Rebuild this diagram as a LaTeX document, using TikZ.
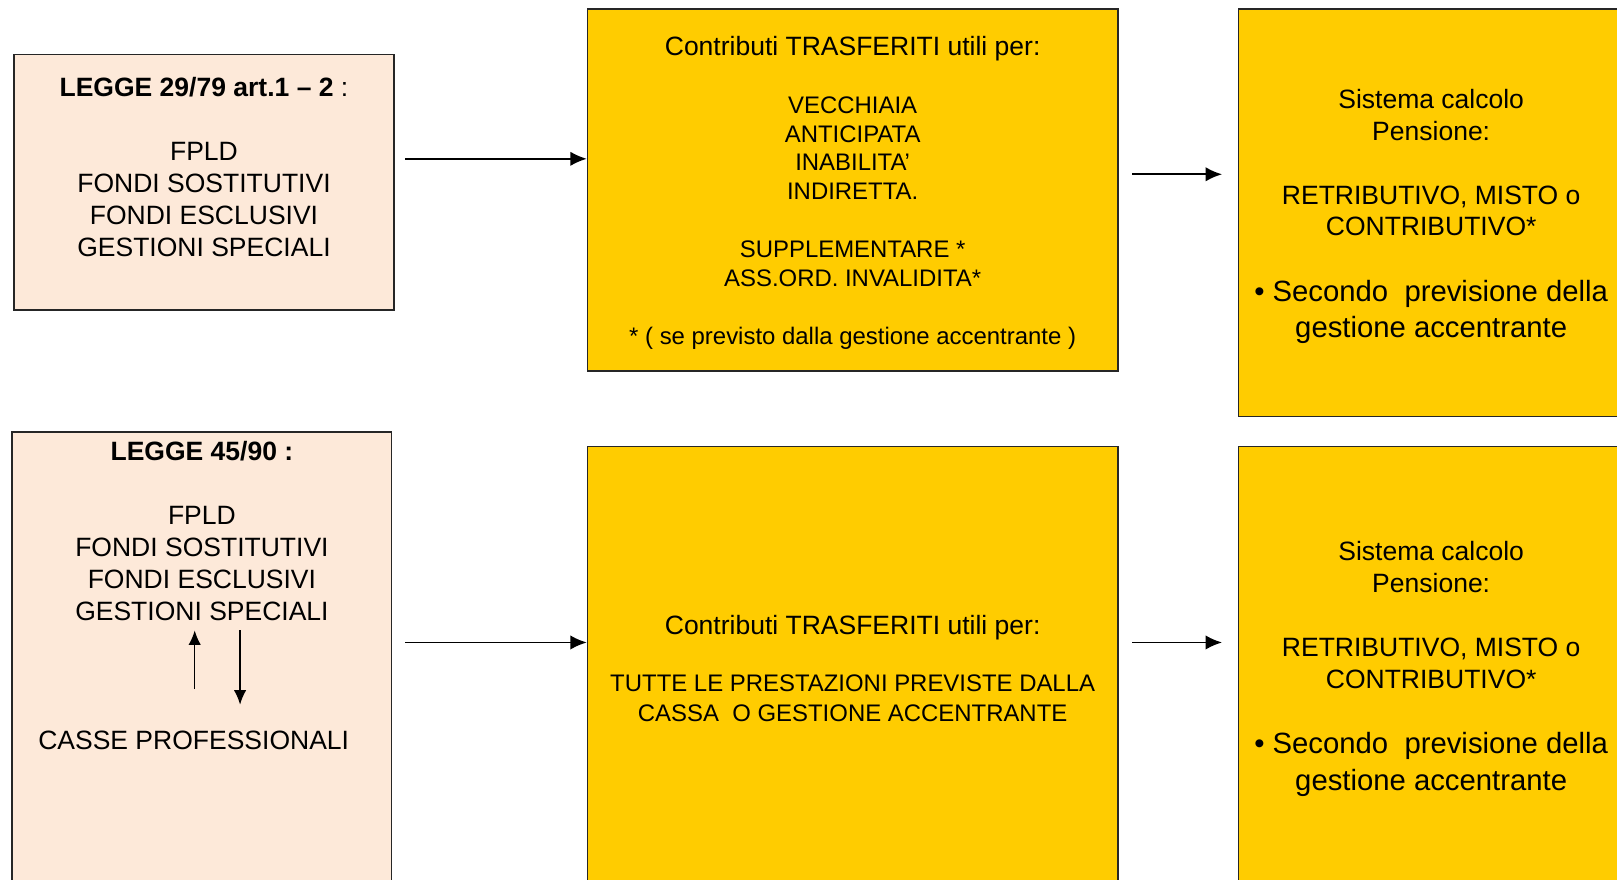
\documentclass[tikz,border=0pt]{standalone}
\usepackage{fontspec}
\setmainfont{Liberation Sans}
\usetikzlibrary{positioning, calc, arrows.meta}
\definecolor{pesca}{HTML}{FDE9D9}
\definecolor{oro}{HTML}{FFCC00}
\tikzstyle{arrow} = [line width=1.7pt, -{Latex[length=16pt, width=14pt]}]
\tikzstyle{arrowsmall} = [line width=1.5pt, -{Latex[length=14pt, width=12pt]}]
\tikzstyle{boxl} = [rectangle, draw=black!85, line width=1.6pt, fill=pesca, anchor=north west]
\tikzstyle{boxg} = [rectangle, draw=black!85, line width=1.6pt, fill=oro, anchor=north west]
\tikzstyle{txtbig} = [align=center, inner sep=0pt, font=\fontsize{25.7}{31}\selectfont]
\tikzstyle{txtsmall} = [align=center, inner sep=0pt, font=\fontsize{23.2}{28}\selectfont]
\tikzstyle{txtbullet} = [align=center, inner sep=0pt, font=\fontsize{28.4}{35}\selectfont]

\begin{document}
\begin{tikzpicture}[x=1pt, y=-1pt]
                \useasboundingbox (0,0) rectangle (1568,853.3);
                \clip (0,0) rectangle (1568,853.3);

                % riga 1: legge 29/79
                \node (a1) [boxl, minimum width=368pt, minimum height=248pt] at (13,52) {};
                \node (m1) [boxg, minimum width=514pt, minimum height=351pt] at (569,8) {};
                \node (r1) [boxg, minimum width=440pt, minimum height=395pt] at (1200,8) {};
                \node (a1txt) [txtbig, below=23pt of a1.north] {\textbf{LEGGE 29/79 art.1 – 2} :\\[31pt]FPLD\\FONDI SOSTITUTIVI\\FONDI ESCLUSIVI\\GESTIONI SPECIALI};
                \node (m1head) [txtbig, below=27pt of m1.north] {Contributi TRASFERITI utili per:};
                \node (m1txt) [txtsmall, below=34pt of m1head] {VECCHIAIA\\ANTICIPATA\\INABILITA’\\INDIRETTA.\\[28pt]SUPPLEMENTARE *\\ASS.ORD. INVALIDITA*\\[28pt]* ( se previsto dalla gestione accentrante )};
                \node (r1txt) [txtbig, below=78pt of r1.north, xshift=-33pt] {Sistema calcolo\\Pensione:\\[31pt]RETRIBUTIVO, MISTO o\\CONTRIBUTIVO*};
                \node (r1bul) [txtbullet, below=42pt of r1txt] {• Secondo~ previsione della\\gestione accentrante};

                % riga 2: legge 45/90
                \node (a2) [boxl, minimum width=368pt, minimum height=500pt] at (11,418) {};
                \node (m2) [boxg, minimum width=514pt, minimum height=500pt] at (569,432) {};
                \node (r2) [boxg, minimum width=440pt, minimum height=500pt] at (1200,432) {};
                \node (a2txt) [txtbig, below=10pt of a2.north] {\textbf{LEGGE 45/90 :}\\[31pt]FPLD\\FONDI SOSTITUTIVI\\FONDI ESCLUSIVI\\GESTIONI SPECIALI};
                \node (casse) [txtbig, below=106pt of a2txt, xshift=-8pt] {CASSE PROFESSIONALI};
                \node (m2head) [txtbig, below=164pt of m2.north] {Contributi TRASFERITI utili per:};
                \node (m2txt) [txtsmall, below=34pt of m2head] {TUTTE LE PRESTAZIONI PREVISTE DALLA\\[1pt]CASSA~ O GESTIONE ACCENTRANTE};
                \node (r2txt) [txtbig, below=93pt of r2.north, xshift=-33pt] {Sistema calcolo\\Pensione:\\[31pt]RETRIBUTIVO, MISTO o\\CONTRIBUTIVO*};
                \node (r2bul) [txtbullet, below=42pt of r2txt] {• Secondo~ previsione della\\gestione accentrante};

                \coordinate (s1) at (393,154);
                \coordinate (s2) at (1098,169);
                \coordinate (e2) at (1185,169);
                \coordinate (s3) at (393,623);
                \coordinate (s4) at (1098,623);
                \coordinate (e4) at (1185,623);

                \draw [arrow] (s1) -- (s1 -| m1.west);
                \draw [arrow] (s2) -- (e2);
                \draw [arrow] (s3) -- (s3 -| m2.west);
                \draw [arrow] (s4) -- (e4);
                \draw [arrowsmall] ($(casse.north)+(1,-40)$) -- ($(casse.north |- a2txt.south)+(1,9)$);
                \draw [arrowsmall] ($(casse.north |- a2txt.south)+(45,9)$) -- ($(casse.north)+(45,-25)$);
\end{tikzpicture}
\end{document}
